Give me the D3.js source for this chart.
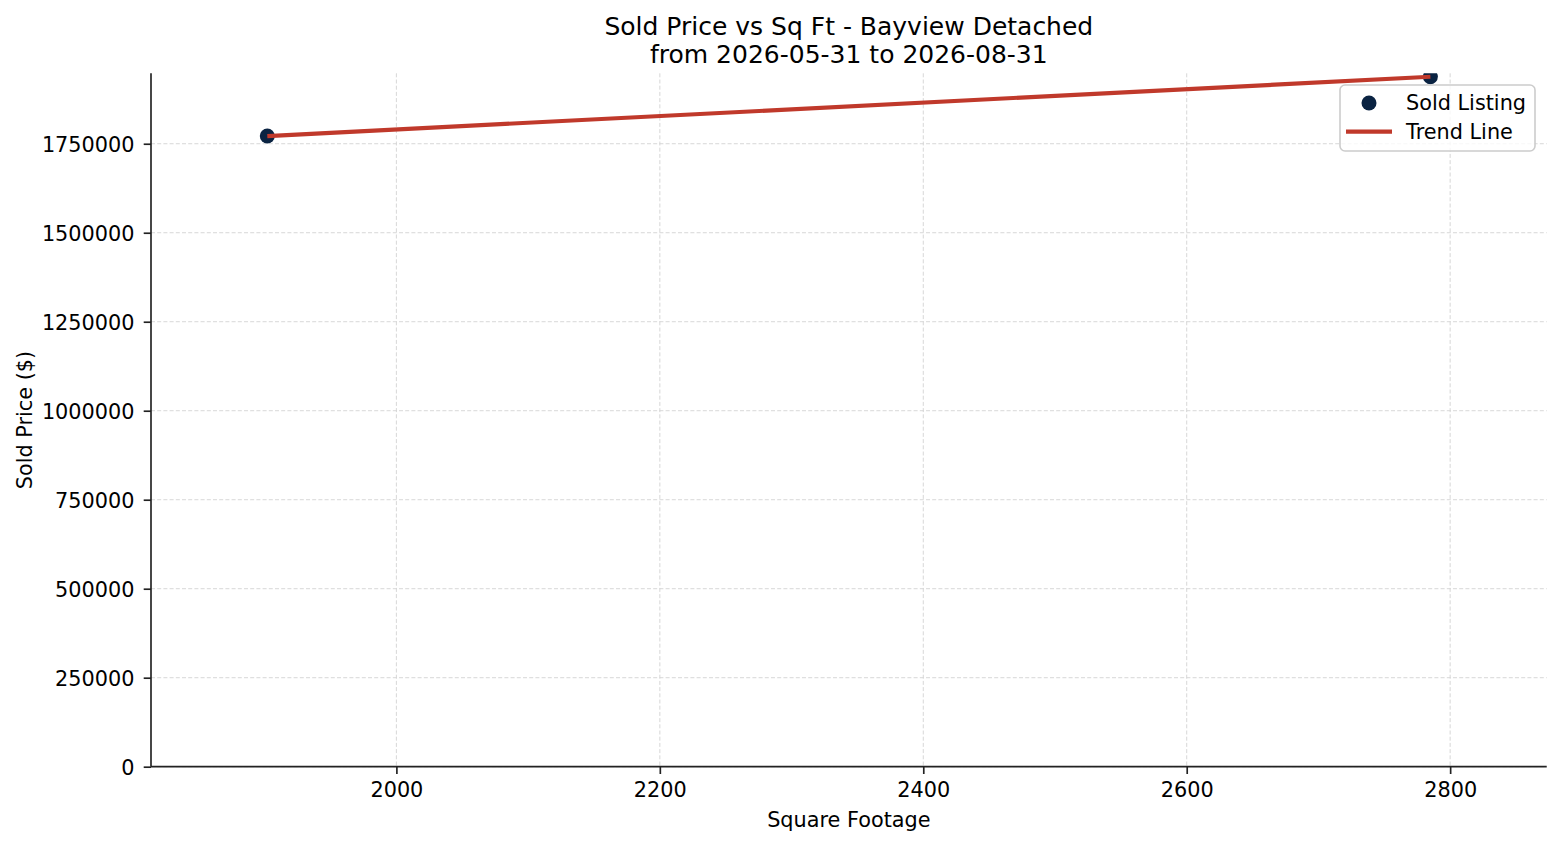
<!DOCTYPE html>
<html>
<head>
<meta charset="utf-8">
<script src="https://cdn.jsdelivr.net/npm/d3@7"></script>
<style>
  html, body { margin: 0; padding: 0; background: #fff; }
  svg { display: block; font-family: "DejaVu Sans", sans-serif; }
</style>
</head>
<body>
<svg id="chart" width="1560" height="845"></svg>
<script>
// ---- data ----
const titleLines = ["Sold Price vs Sq Ft - Bayview Detached", "from 2026-05-31 to 2026-08-31"];
const sqft = [1902, 2785];
const soldPrice = [1771600, 1938200];
const trendX = [1902, 2785];
const trendY = [1771600, 1938200];
const xTicks = [2000, 2200, 2400, 2600, 2800];
const yTicks = [0, 250000, 500000, 750000, 1000000, 1250000, 1500000, 1750000];
const xLabel = "Square Footage";
const yLabel = "Sold Price ($)";
const legendLabels = ["Sold Listing", "Trend Line"];

// ---- layout ----
const m = { left: 151, right: 1546.7, top: 73.3, bottom: 766.7 };
const pointColor = "#0a2342";
const lineColor = "#c0392b";
const fs = 20.8;

const svg = d3.select("#chart");

const xMin = d3.min(sqft), xMax = d3.max(sqft);
const pad = (xMax - xMin) * 0.1;
const x = d3.scaleLinear().domain([xMin - pad, xMax + pad]).range([m.left, m.right]);
const y = d3.scaleLinear().domain([0, d3.max(soldPrice) * 1.005]).range([m.bottom, m.top]);

// clip
svg.append("defs").append("clipPath").attr("id", "clip")
  .append("rect").attr("x", m.left).attr("y", m.top)
  .attr("width", m.right - m.left).attr("height", m.bottom - m.top);

// grid
const grid = svg.append("g").attr("stroke", "#d3d3d3").attr("stroke-width", 0.9)
  .attr("stroke-dasharray", "4,2.2");
grid.selectAll("line.gx").data(xTicks).join("line").attr("class", "gx")
  .attr("x1", d => x(d)).attr("x2", d => x(d)).attr("y1", m.top).attr("y2", m.bottom);
grid.selectAll("line.gy").data(yTicks).join("line").attr("class", "gy")
  .attr("y1", d => y(d)).attr("y2", d => y(d)).attr("x1", m.left).attr("x2", m.right);

// axes
const xAxis = d3.axisBottom(x).tickValues(xTicks).tickFormat(d3.format("d")).tickSize(7.3).tickPadding(7);
const yAxis = d3.axisLeft(y).tickValues(yTicks).tickFormat(d3.format("d")).tickSize(7.3).tickPadding(7);

const gx = svg.append("g").attr("transform", `translate(0,${m.bottom})`).call(xAxis);
const gy = svg.append("g").attr("transform", `translate(${m.left},0)`).call(yAxis);
[gx, gy].forEach(g => {
  g.select(".domain").attr("stroke", "#222").attr("stroke-width", 1.67);
  g.selectAll(".tick line").attr("stroke", "#222").attr("stroke-width", 1.67);
  g.selectAll(".tick text").attr("fill", "#000").attr("font-size", fs)
    .attr("font-family", "DejaVu Sans, sans-serif");
});
gx.select(".domain").attr("d", `M${m.left},0H${m.right}`);
gy.select(".domain").attr("d", `M0,${m.bottom}V${m.top}`);
gx.selectAll(".tick text").attr("dy", null).attr("y", 30.5);
gy.selectAll(".tick text").attr("x", -16.5).attr("dy", "0.36em");

// points
const plot = svg.append("g").attr("clip-path", "url(#clip)");
plot.selectAll("circle").data(sqft.map((d, i) => [d, soldPrice[i]])).join("circle")
  .attr("cx", d => x(d[0])).attr("cy", d => y(d[1])).attr("r", 7.5)
  .attr("fill", pointColor);

// trend line
const line = d3.line().x(d => x(d[0])).y(d => y(d[1]));
plot.append("path").datum(trendX.map((d, i) => [d, trendY[i]]))
  .attr("d", line).attr("fill", "none").attr("stroke", lineColor).attr("stroke-width", 4.17);

// labels
svg.append("text").attr("x", (m.left + m.right) / 2).attr("y", 827)
  .attr("text-anchor", "middle").attr("font-size", fs).text(xLabel);
svg.append("text").attr("transform", `translate(32,${(m.top + m.bottom) / 2}) rotate(-90)`)
  .attr("text-anchor", "middle").attr("font-size", fs).text(yLabel);

// title
svg.append("g").selectAll("text").data(titleLines).join("text")
  .attr("x", (m.left + m.right) / 2).attr("y", (d, i) => 34.5 + i * 28.5)
  .attr("text-anchor", "middle").attr("font-size", 25).text(d => d);

// legend
const lg = svg.append("g");
lg.append("rect").attr("x", 1340).attr("y", 85).attr("width", 195).attr("height", 66)
  .attr("rx", 5).attr("fill", "#fff").attr("fill-opacity", 0.8)
  .attr("stroke", "#cccccc").attr("stroke-width", 1.6);
lg.append("circle").attr("cx", 1369).attr("cy", 103).attr("r", 7.5).attr("fill", pointColor);
lg.append("line").attr("x1", 1346).attr("x2", 1392).attr("y1", 131.7).attr("y2", 131.7)
  .attr("stroke", lineColor).attr("stroke-width", 4.17);
lg.selectAll("text").data(legendLabels).join("text")
  .attr("x", 1406).attr("y", (d, i) => 110.3 + i * 29)
  .attr("font-size", fs).text(d => d);
</script>
</body>
</html>
